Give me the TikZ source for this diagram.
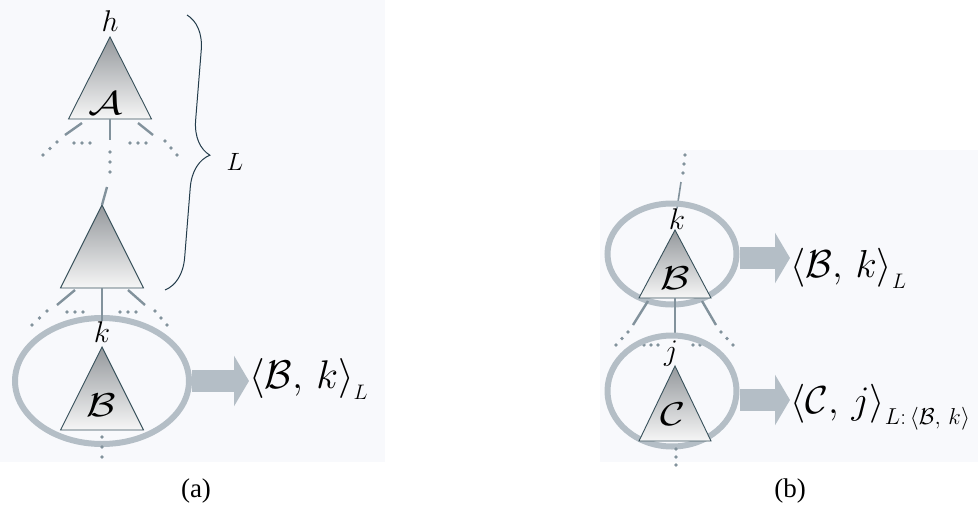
\RequirePackage{fix-cm}
\documentclass[tikz,border=0pt]{standalone}
\usepackage{fontspec}
\usepackage{graphicx}
\newfontfamily\capfont{Liberation Serif}
\usetikzlibrary{shapes.geometric,arrows.meta,decorations.pathreplacing}
\definecolor{bgpanel}{RGB}{248,249,252}
\definecolor{ringc}{RGB}{180,190,198}
\definecolor{edgec}{RGB}{130,146,156}
\definecolor{trioutline}{RGB}{55,80,90}
\definecolor{tritop}{RGB}{148,152,156}
\definecolor{tribot}{RGB}{246,246,246}
\definecolor{bracec}{RGB}{35,60,75}
\newcommand\mytri[5]{% name, apex x, apex y, height, half width
  \coordinate (#1-a) at (#2,#3);
  \coordinate (#1-l) at ({#2-#5},{#3+#4});
  \coordinate (#1-r) at ({#2+#5},{#3+#4});
  \coordinate (#1-b) at (#2,{#3+#4});
  \shadedraw[top color=tritop, bottom color=tribot, draw=trioutline, line width=0.9pt, line join=miter]
    (#1-a) -- (#1-l) -- (#1-r) -- cycle;
}
\newcommand\dotrow[1]{\foreach \p in {#1} \fill[edgec] \p circle (1.8pt);}
\newcommand\subL{\mbox{\fontsize{21}{22}\selectfont$L$}}
\begin{document}
\begin{tikzpicture}[x=1pt,y=-1pt,
  ring/.style={ellipse, draw=ringc, line width=6pt, inner sep=0pt},
  edge/.style={draw=edgec, line width=2.4pt},
  bigarrow/.style={draw=ringc, line width=22pt, -{Triangle[length=15pt,width=50pt]}},
  small/.style={inner sep=0pt, font=\fontsize{30}{32}\selectfont},
  trilabel/.style={inner sep=0pt, font=\fontsize{33}{35}\selectfont},
  biglabel/.style={inner sep=0pt, anchor=base west, font=\fontsize{40}{44}\selectfont},
  biglabelb/.style={inner sep=0pt, anchor=base west, font=\fontsize{39}{42}\selectfont},
  caption/.style={inner sep=0pt, font=\capfont\fontsize{27}{29}\selectfont}]
\useasboundingbox (0,0) rectangle (978,509);
\fill[bgpanel] (0,0) rectangle (385,462);
\fill[bgpanel] (600,150) rectangle (978,462);

% ---------------- panel (a)
\mytri{TA}{110}{37}{82}{41.5}
\mytri{TM}{102}{205}{83}{41.5}
\node[small] (hlab) at (110,21) {$h$};
\node[trilabel] (Alab) at (106,103) {\scalebox{1.3}[1]{$\mathcal{A}$}};
% stubs below A
\draw[edge] (82,123) -- (65,135);
\draw[edge] (TA-b) -- (110,140);
\draw[edge] (138,123) -- (153,135);
\dotrow{(57,142),(50,148.5),(43,155)}
\dotrow{(74,143),(82,143),(90,143)}
\dotrow{(110,152),(110,162),(110,172)}
\dotrow{(130,143),(138,143),(146,143)}
\dotrow{(165,141),(171,148),(177,155)}
\coordinate (upA) at (107,187);
\draw[edge] (upA) -- (TM-a);
% brace
\draw[bracec, line width=1pt, decorate, decoration={brace, amplitude=34pt}] (187,15) -- (165,290);
\node[inner sep=0pt, font=\fontsize{25}{27}\selectfont] (Llab) at (235,162) {$L$};
% stubs below middle triangle
\draw[edge] (75,290) -- (57,305);
\draw[edge] (128,290) -- (145,305);
\dotrow{(47,311),(39.5,318),(32,325)}
\dotrow{(67,312),(75,312),(83,312)}
\dotrow{(120,312),(128,312),(136,312)}
\dotrow{(155,311),(161,318),(167,325)}
% ellipse and B
\node[ring, minimum width=174pt, minimum height=126pt] (ellA) at (102,381) {};
\mytri{TBa}{102}{347}{83}{41.5}
\node[small] (kA) at (102,332) {$k$};
\draw[edge] (TM-b) -- (kA.north);
\node[trilabel] (BlabA) at (101,405) {\scalebox{1.3}[1]{$\mathcal{B}$}};
\dotrow{(102,437),(102,447),(102,457)}
\node[biglabel] (outA) at (249,388) {$\big\langle \mathcal{B},\, k\big\rangle_{\subL}$};
\draw[bigarrow] (ellA.east) -- (ellA.east -| outA.west);
\node[caption] (capA) at (196,491) {(a)};

% ---------------- panel (b)
\dotrow{(685,155),(684,164),(683,173)}
\node[small] (kB) at (677,219) {$k$};
\coordinate (upB) at (681,182);
\draw[edge, line width=1.6pt] (upB) -- (kB.north);
\node[ring, minimum width=129pt, minimum height=101pt] (ellB) at (672,254) {};
\mytri{TB}{675}{230}{68}{36}
\node[trilabel] (BlabB) at (675,278) {\scalebox{1.3}[1]{$\mathcal{B}$}};
\coordinate (midB) at (675,333);
\draw[edge] (TB-b) -- (midB);
\draw[edge] (648,301) -- (633,325);
\draw[edge] (702,301) -- (716,325);
\dotrow{(628,332),(622,338.5),(616,345)}
\dotrow{(644,345),(651,345),(658,345)}
\dotrow{(693,345),(700,345),(707,345)}
\dotrow{(721,332),(727,338.5),(733,345)}
\node[ring, minimum width=129pt, minimum height=111pt] (ellC) at (672,391) {};
\mytri{TC}{675}{366}{75}{36}
\node[small] (jB) at (671,354) {$j$};
\node[trilabel] (ClabB) at (673,414) {\scalebox{1.3}[1]{$\mathcal{C}$}};
\dotrow{(676,449),(676,457),(676,465)}
\node[biglabelb] (outB) at (790,277) {$\big\langle \mathcal{B},\, k\big\rangle_{\subL}$};
\draw[bigarrow] ([yshift=-4pt]ellB.east) -- ([yshift=-4pt]ellB.east -| outB.west);
\node[biglabelb] (outC) at (790,413) {$\big\langle \mathcal{C},\, j\big\rangle_{\mbox{\fontsize{23}{24}\selectfont$L\mathpunct{:}\langle\mathcal{B},\,k\rangle$}}$};
\draw[bigarrow] ([yshift=-9pt]ellC.east) -- ([yshift=-9pt]ellC.east -| outC.west);
\node[caption] (capB) at (790,491) {(b)};
\end{tikzpicture}
\end{document}
